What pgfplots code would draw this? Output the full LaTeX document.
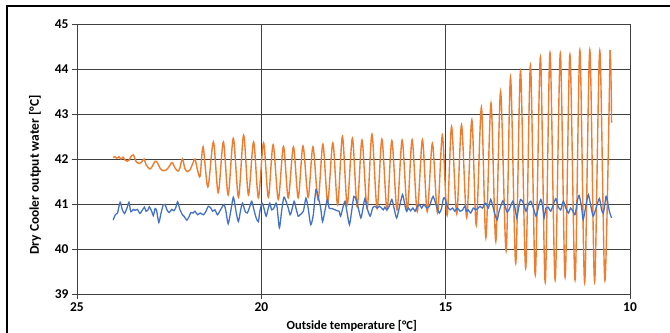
\documentclass[border=0pt]{standalone}
\usepackage{fontspec}
\setmainfont{Carlito}
\usepackage{pgfplots}
\pgfplotsset{compat=1.18}
\definecolor{exorange}{HTML}{ED7D31}
\definecolor{exblue}{HTML}{4472C4}
\definecolor{gridc}{HTML}{404040}
\begin{document}
\begin{tikzpicture}
\path[use as bounding box] (0bp,0bp) rectangle (670bp,333bp);
\draw[line width=2bp] (6.5bp,-20bp) -- (6.5bp,326.5bp) -- (690bp,326.5bp);
\begin{axis}[
  at={(77bp,39bp)}, anchor=south west,
  width=553bp, height=270bp, scale only axis,
  x dir=reverse, xmin=10, xmax=25, ymin=39, ymax=45,
  xtick={10,15,20,25}, ytick={39,40,...,45},
  xtick pos=left, ytick pos=left,
  grid=major, major grid style={gridc, line width=0.9bp},
  axis line style={gridc, line width=0.9bp},
  tick style={gridc, line width=0.9bp},
  tick align=outside, major tick length=5bp,
  /pgf/number format/assume math mode=true,
  ticklabel style={font=\fontsize{13.5}{14}\selectfont\bfseries},
  xlabel={Outside temperature [°C]},
  ylabel={Dry Cooler output water [°C]},
  xlabel style={at={(axis description cs:0.497,-0.1185)}, anchor=center, font=\fontsize{12.5}{13}\selectfont\bfseries},
  ylabel style={at={(axis description cs:-0.076,0.441)}, anchor=center, font=\fontsize{13.5}{14}\selectfont\bfseries},
]
\addplot[exorange, line width=1.4bp, no markers, smooth, tension=0.5] coordinates {
(24.02,42.03) (23.97,42.05) (23.92,42.02) (23.86,42.05) (23.81,42.00) (23.75,42.04) (23.70,41.98) (23.64,41.95) (23.58,41.98) (23.54,42.05) (23.47,42.09) (23.40,41.95) (23.32,41.90) (23.26,41.92) (23.18,42.00) (23.13,41.88) (23.03,41.78) (22.97,41.82) (22.88,41.95) (22.82,41.92) (22.75,41.80) (22.67,41.74) (22.59,41.75) (22.51,41.82) (22.42,41.92) (22.34,41.80) (22.26,41.73) (22.21,41.80) (22.14,42.00) (22.07,41.78) (22.00,41.72) (21.94,41.75) (21.87,41.88) (21.80,42.00) (21.73,41.75) (21.66,41.62)
(21.58,42.27) (21.45,41.38) (21.30,42.38) (21.17,41.25) (21.03,42.38) (20.90,41.20) (20.76,42.46) (20.62,41.15) (20.48,42.53) (20.35,41.20) (20.21,42.38) (20.08,41.14) (19.94,42.36) (19.81,41.15) (19.68,42.32) (19.54,41.10) (19.40,42.28) (19.27,41.14) (19.13,42.27) (19.00,41.14) (18.87,42.29) (18.73,41.15) (18.60,42.27) (18.46,41.09) (18.33,42.33) (18.20,41.05) (18.06,42.36) (17.93,40.98) (17.80,42.50) (17.67,40.98) (17.53,42.46) (17.40,40.94) (17.27,42.42) (17.13,40.90) (17.00,42.55) (16.86,40.90) (16.73,42.44) (16.59,40.87) (16.46,42.41) (16.32,40.87) (16.18,42.42) (16.04,40.87) (15.91,42.43) (15.77,40.83) (15.63,42.43) (15.50,40.83) (15.36,42.35) (15.22,40.80) (15.09,42.53) (14.96,40.75) (14.84,42.72) (14.70,40.78) (14.57,42.76) (14.43,40.70) (14.29,42.87) (14.17,40.53) (14.03,43.15) (13.91,40.25) (13.77,43.24) (13.64,40.17) (13.51,43.50) (13.36,39.96) (13.24,43.82) (13.10,39.68) (12.97,43.96) (12.83,39.57) (12.70,44.09) (12.57,39.42) (12.43,44.27) (12.30,39.26) (12.17,44.36) (12.03,39.31) (11.89,44.35) (11.76,39.37) (11.63,44.32) (11.49,39.31) (11.36,44.42) (11.23,39.25) (11.09,44.43) (10.96,39.27) (10.82,44.41) (10.68,39.30) (10.54,44.42)
};
\addplot[exorange, line width=1.4bp, no markers, smooth, tension=0.5] coordinates {
(10.54,44.42) (10.525,44.15) (10.51,43.55) (10.50,42.81)
};
\addplot[exblue, line width=1.3bp, no markers, smooth, tension=0.4] coordinates {
(24.02,40.64) (23.96,40.76) (23.90,40.80) (23.83,41.04) (23.77,40.87) (23.71,40.79) (23.64,40.92) (23.59,41.04) (23.54,40.83) (23.47,40.88) (23.43,40.86) (23.36,40.88) (23.34,40.85) (23.29,40.79) (23.23,40.86) (23.17,40.93) (23.13,40.84) (23.08,40.86) (23.04,40.94) (22.97,40.83) (22.93,40.74) (22.88,40.90) (22.84,40.85) (22.78,40.59) (22.72,40.80) (22.66,40.98) (22.61,40.99) (22.56,40.87) (22.50,40.81) (22.43,40.88) (22.37,40.85) (22.32,40.92) (22.27,41.05) (22.21,40.88) (22.14,40.76) (22.09,40.72) (22.02,40.64) (21.96,40.72) (21.91,40.81) (21.85,40.80) (21.80,40.84) (21.73,40.76) (21.66,40.80)
(21.57,40.76) (21.50,40.84) (21.44,40.95) (21.37,40.91) (21.32,40.84) (21.26,40.87) (21.19,40.76) (21.14,40.82) (21.08,40.91) (21.01,40.99) (20.96,40.84) (20.90,40.56) (20.83,40.84) (20.76,41.15) (20.71,40.95) (20.67,40.76) (20.62,40.61) (20.56,40.87) (20.51,41.02) (20.44,40.84) (20.38,40.80) (20.31,40.95) (20.26,41.06) (20.20,40.87) (20.14,40.69) (20.08,40.61) (20.04,40.84) (19.98,41.02) (19.93,40.91) (19.87,40.73) (19.81,40.91) (19.77,41.02) (19.72,40.87) (19.66,40.91) (19.60,41.02) (19.57,40.91) (19.51,40.47) (19.45,40.84) (19.39,41.15) (19.33,41.06) (19.27,40.91) (19.22,40.76) (19.18,40.84) (19.11,41.06) (19.06,40.91) (19.00,40.73)
(18.95,40.76) (18.86,40.84) (18.79,41.13) (18.73,40.91) (18.66,40.54) (18.59,40.76) (18.52,41.32) (18.45,41.13) (18.39,40.91) (18.34,40.61) (18.27,40.87) (18.21,41.10) (18.16,40.91) (18.09,40.90) (18.00,40.87) (17.94,40.85) (17.89,40.84) (17.85,40.73) (17.79,40.91) (17.73,41.06) (17.68,40.84) (17.61,40.54) (17.55,40.84) (17.49,41.17) (17.43,41.10) (17.37,40.91) (17.30,40.69) (17.25,40.87) (17.19,41.12) (17.13,40.91) (17.05,40.73) (16.98,40.91) (16.92,40.95) (16.85,40.91) (16.80,40.95) (16.74,40.91) (16.69,40.87) (16.65,40.93) (16.60,40.87) (16.53,40.95) (16.46,41.10) (16.40,40.91) (16.33,40.69) (16.26,40.91)
(16.17,41.21) (16.10,40.95) (16.06,40.84) (16.01,40.91) (15.95,40.85) (15.89,40.91) (15.83,40.84) (15.79,40.91) (15.72,40.99) (15.65,40.91) (15.59,40.99) (15.51,40.91) (15.44,40.95) (15.38,41.10) (15.34,41.17) (15.29,41.06) (15.23,40.91) (15.17,40.80) (15.11,40.91) (15.06,41.13) (15.02,41.12) (14.97,40.99) (14.93,40.91) (14.88,40.87) (14.81,40.91) (14.75,40.84) (14.68,40.91) (14.61,40.84) (14.54,40.87) (14.48,40.95) (14.43,40.84) (14.39,40.87) (14.32,40.80) (14.25,40.91) (14.18,40.87) (14.12,40.91) (14.07,40.95) (14.00,40.91) (13.93,41.02) (13.89,40.99) (13.84,40.91) (13.78,41.10) (13.72,40.95) (13.66,40.76) (13.60,40.65) (13.55,40.84)
(13.45,41.07) (13.39,40.95) (13.33,40.82) (13.26,40.91) (13.18,41.06) (13.12,40.91) (13.07,40.69) (13.03,40.87) (12.97,41.10) (12.89,41.02) (12.82,40.84) (12.76,40.99) (12.69,41.06) (12.62,40.91) (12.55,40.73) (12.49,40.91) (12.42,41.10) (12.37,40.95) (12.33,40.69) (12.28,40.91) (12.22,40.93) (12.15,40.84) (12.08,40.99) (12.01,41.12) (11.95,40.95) (11.88,40.87) (11.81,41.06) (11.74,40.91) (11.67,40.80) (11.61,40.91) (11.55,40.84) (11.49,40.76) (11.43,41.06) (11.38,41.19) (11.31,40.91) (11.27,40.65) (11.19,40.99) (11.13,41.21) (11.07,40.99) (11.00,40.73) (10.92,40.91) (10.83,41.12) (10.77,40.87) (10.72,40.80) (10.65,41.17) (10.61,41.06) (10.56,40.84) (10.50,40.69)
};
\end{axis}
\end{tikzpicture}
\end{document}
